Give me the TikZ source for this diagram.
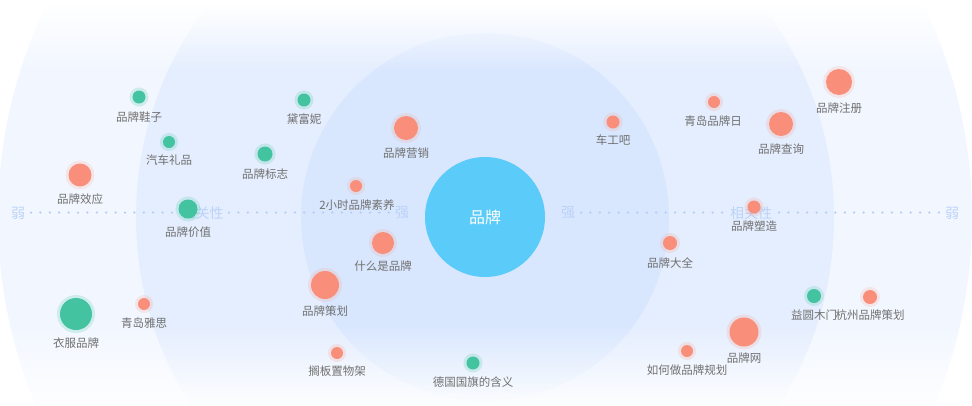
\documentclass[tikz,border=0pt]{standalone}
\usepackage{fontspec}
\newfontfamily\cjk{Noto Sans CJK SC}
\usetikzlibrary{fadings}
\definecolor{bgA}{HTML}{F2F7FF}
\definecolor{bgB}{HTML}{E5EEFE}
\definecolor{bgC}{HTML}{D9E7FE}
\definecolor{core}{HTML}{5BCBFA}
\definecolor{gr}{HTML}{43C3A0}
\definecolor{sa}{HTML}{F98F7B}
\definecolor{axisc}{HTML}{B4CDF6}
\definecolor{axtext}{HTML}{BBD2F8}
\definecolor{labc}{HTML}{707070}
\tikzfading[name=fadetop, top color=transparent!0, bottom color=transparent!100]
\tikzfading[name=fadebot, top color=transparent!100, bottom color=transparent!0]
\begin{document}
\begin{tikzpicture}[x=1pt,y=-1pt,
  gb/.style={circle, fill=gr, draw=gr, draw opacity=0.2, line width=6pt, inner sep=0, minimum size=#1},
  sb/.style={circle, fill=sa, draw=sa, draw opacity=0.17, line width=6pt, inner sep=0, minimum size=#1},
  lab/.style={font=\cjk\fontsize{11.5}{12}\selectfont, text=labc, inner sep=0},
  axl/.style={font=\cjk\fontsize{14}{14}\selectfont, text=axtext, inner sep=0},
  dots/.style={draw=axisc, line width=2.5pt, line cap=round, dash pattern=on 0pt off 9.4pt}]
\useasboundingbox (0,0) rectangle (972,405);
\begin{scope}
\clip (0,0) rectangle (972,405);
\fill[white] (0,0) rectangle (972,405);
\fill[bgA] (485,217) circle (487pt);
\fill[bgB] (485,217) circle (349pt);
\fill[bgC] (485,217) circle (184pt);
\fill[white] (0,0) rectangle (972,6);
\fill[white, path fading=fadetop] (0,5) rectangle (972,70);
\fill[white, path fading=fadebot] (0,325) rectangle (972,412);
\end{scope}
% axis
\coordinate (a1) at (31,212.5);
\coordinate (a2) at (180,212.5);
\coordinate (a3) at (229,212.5);
\coordinate (a4) at (390,212.5);
\coordinate (a5) at (581,212.5);
\coordinate (a6) at (723,212.5);
\coordinate (a7) at (779,212.5);
\coordinate (a8) at (939,212.5);
\draw[dots] (a1) -- (a2);
\draw[dots] (a3) -- (a4);
\draw[dots] (a5) -- (a6);
\draw[dots] (a7) -- (a8);
\node[axl] (w1) at (18,213) {弱};
\node[axl] (x1) at (202.5,213) {相关性};
\node[axl] (s1) at (402,213) {强};
\node[axl] (s2) at (568,213) {强};
\node[axl] (x2) at (751,213) {相关性};
\node[axl] (w2) at (952,213) {弱};
% core
\node[circle, fill=core, minimum size=120pt, inner sep=0, text=white, font=\cjk\fontsize{16}{16}\selectfont] (brand) at (485,217) {品牌};
% bubbles
\node[gb=13pt] (b1) at (139,97) {};
\node[lab] (l1) at (139,117) {品牌鞋子};
\node[gb=12pt] (b2) at (169,142) {};
\node[lab] (l2) at (169,160.5) {汽车礼品};
\node[gb=13pt] (b3) at (304,100) {};
\node[lab] (l3) at (304,119) {黛富妮};
\node[gb=15pt] (b4) at (265,154) {};
\node[lab] (l4) at (265,174) {品牌标志};
\node[sb=23pt] (b5) at (80,175) {};
\node[lab] (l5) at (80,199.5) {品牌效应};
\node[gb=19pt] (b6) at (188,209) {};
\node[lab] (l6) at (188,232) {品牌价值};
\node[gb=32pt] (b7) at (76,314) {};
\node[lab] (l7) at (76,343) {衣服品牌};
\node[sb=12pt] (b8) at (144,304) {};
\node[lab] (l8) at (144,323.5) {青岛雅思};
\node[sb=24pt] (b9) at (406,128) {};
\node[lab] (l9) at (406,153) {品牌营销};
\node[sb=12pt] (b10) at (356,186) {};
\node[lab] (l10) at (357,205) {2小时品牌素养};
\node[sb=22pt] (b11) at (383,243) {};
\node[lab] (l11) at (383,266) {什么是品牌};
\node[sb=28pt] (b12) at (325,285) {};
\node[lab] (l12) at (325,311.5) {品牌策划};
\node[sb=12pt] (b13) at (337,353) {};
\node[lab] (l13) at (337,371.5) {搁板置物架};
\node[gb=13pt] (b14) at (473,363) {};
\node[lab] (l14) at (473,382) {德国国旗的含义};
\node[sb=13pt] (b15) at (613,122) {};
\node[lab] (l15) at (613,140.5) {车工吧};
\node[sb=12pt] (b16) at (714,102) {};
\node[lab] (l16) at (713,121.5) {青岛品牌日};
\node[sb=26pt] (b17) at (839,82) {};
\node[lab] (l17) at (839,108) {品牌注册};
\node[sb=24pt] (b18) at (781,124) {};
\node[lab] (l18) at (781,149) {品牌查询};
\node[sb=13pt] (b19) at (754,207) {};
\node[lab] (l19) at (754,226.5) {品牌塑造};
\node[sb=14pt] (b20) at (670,243) {};
\node[lab] (l20) at (670,263.5) {品牌大全};
\node[gb=14pt] (b21) at (814,296) {};
\node[lab] (l21) at (814,315.5) {益圆木门};
\node[sb=14pt] (b22) at (870,297) {};
\node[lab] (l22) at (870,315.5) {杭州品牌策划};
\node[sb=29pt] (b23) at (744,332) {};
\node[lab] (l23) at (744,358) {品牌网};
\node[sb=12pt] (b24) at (687,351) {};
\node[lab] (l24) at (687,370) {如何做品牌规划};
\end{tikzpicture}
\end{document}
